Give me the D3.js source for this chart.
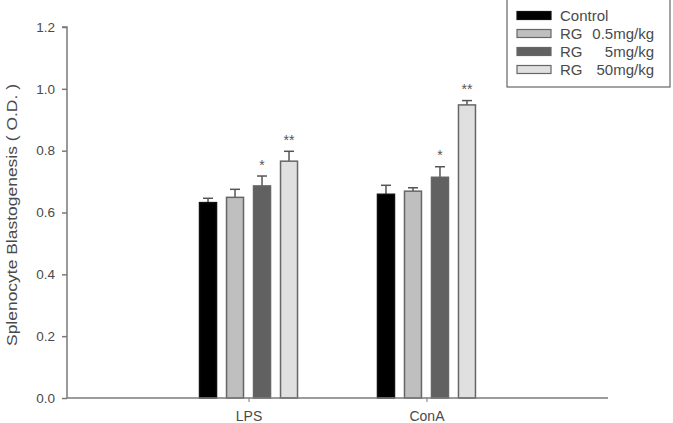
<!DOCTYPE html>
<html>
<head>
<meta charset="utf-8">
<script src="https://cdn.jsdelivr.net/npm/d3@7"></script>
<style>
  body { margin: 0; background: #fff; }
  svg { font-family: "Liberation Sans", Arial, sans-serif; }
</style>
</head>
<body>
<svg id="chart" width="673" height="423"></svg>
<script>
const categories = ['LPS', 'ConA'];
const groups = ['Control', 'RG 0.5mg/kg', 'RG 5mg/kg', 'RG 50mg/kg'];
const means = [
  [0.632, 0.649, 0.686, 0.766],
  [0.659, 0.669, 0.714, 0.948],
];
const errors = [
  [0.014, 0.026, 0.032, 0.032],
  [0.029, 0.011, 0.034, 0.014],
];
const stars = [
  ['', '', '*', '**'],
  ['', '', '*', '**'],
];
const yTicks = [0, 0.2, 0.4, 0.6, 0.8, 1.0, 1.2];
const fills = ['#000000', '#bfbfbf', '#616161', '#e0e0e0'];

const svg = d3.select('#chart');
const plotLeft = 67;
const plotRight = 608;
const plotBottom = 398;
const plotTop = 27;
const axisColor = '#7a7a7a';
const textColor = '#4a4a4a';

const x = d3.scalePoint()
    .domain(categories)
    .range([plotLeft, plotRight])
    .padding(1.02);
const xInner = d3.scaleBand()
    .domain(groups)
    .range([-54, 54]);
const barW = 17;
const y = d3.scaleLinear()
    .domain([0, 1.2])
    .range([plotBottom, plotTop]);

// bars
const gBars = svg.append('g').attr('class', 'chart');
categories.forEach((cat, ci) => {
  const g = gBars.append('g').attr('transform', `translate(${x(cat)},0)`);
  const items = groups.map((grp, gi) => ({grp, gi, v: means[ci][gi], e: errors[ci][gi], s: stars[ci][gi]}));
  const cx = (d) => xInner(d.grp) + xInner.bandwidth() / 2;

  g.selectAll('line.err')
      .data(items)
      .join('line')
      .attr('class', 'err')
      .attr('x1', cx).attr('x2', cx)
      .attr('y1', (d) => y(d.v)).attr('y2', (d) => y(d.v + d.e))
      .attr('stroke', '#555').attr('stroke-width', 1.5);
  g.selectAll('line.cap')
      .data(items)
      .join('line')
      .attr('class', 'cap')
      .attr('x1', (d) => cx(d) - 5).attr('x2', (d) => cx(d) + 5)
      .attr('y1', (d) => y(d.v + d.e)).attr('y2', (d) => y(d.v + d.e))
      .attr('stroke', '#555').attr('stroke-width', 1.5);

  g.selectAll('rect')
      .data(items)
      .join('rect')
      .attr('x', (d) => cx(d) - barW / 2)
      .attr('width', barW)
      .attr('y', (d) => y(d.v))
      .attr('height', (d) => plotBottom - y(d.v))
      .attr('fill', (d) => fills[d.gi])
      .attr('stroke', (d) => d.gi === 0 ? '#111' : '#666')
      .attr('stroke-width', 1.5);

  g.selectAll('text.star')
      .data(items.filter((d) => d.s))
      .join('text')
      .attr('class', 'star')
      .attr('x', cx)
      .attr('y', (d) => y(d.v + d.e) - 6.5)
      .attr('text-anchor', 'middle')
      .attr('font-size', 14)
      .attr('fill', '#555')
      .text((d) => d.s);
});

// axes
const yAxis = d3.axisLeft(y).tickValues(yTicks).tickFormat(d3.format('.1f')).tickSize(5).tickPadding(7);
const gy = svg.append('g')
    .attr('transform', `translate(${plotLeft},0)`)
    .call(yAxis);
gy.select('.domain').attr('stroke', axisColor).attr('stroke-width', 1.5).attr('d', `M-5,${plotTop}H0V${plotBottom}`);
gy.selectAll('.tick line').attr('stroke', axisColor).attr('stroke-width', 1.5);
gy.selectAll('.tick text').attr('fill', textColor).attr('font-size', 13.5);

const xAxis = d3.axisBottom(x).tickSize(4).tickPadding(9);
const gx = svg.append('g')
    .attr('transform', `translate(0,${plotBottom})`)
    .call(xAxis);
gx.select('.domain').attr('stroke', axisColor).attr('stroke-width', 1.5).attr('d', `M${plotLeft},0H${plotRight}`);
gx.selectAll('.tick line').attr('stroke', axisColor).attr('stroke-width', 1);
gx.selectAll('.tick text').attr('fill', textColor).attr('font-size', 14);

svg.append('text')
    .attr('transform', 'translate(17,215) rotate(-90)')
    .attr('text-anchor', 'middle')
    .attr('font-size', 15)
    .attr('textLength', 262)
    .attr('lengthAdjust', 'spacingAndGlyphs')
    .attr('fill', textColor)
    .text('Splenocyte Blastogenesis ( O.D. )');

// legend
const legend = svg.append('g').attr('class', 'legend');
legend.append('rect')
    .attr('x', 507).attr('y', -5)
    .attr('width', 163).attr('height', 92)
    .attr('fill', '#fff').attr('stroke', '#666').attr('stroke-width', 1.2);
const gLegend = legend.selectAll('g')
    .data(groups)
    .join('g')
    .attr('transform', (d, i) => `translate(517,${15.5 + i * 18})`);
gLegend.append('rect')
    .attr('x', 0).attr('y', -4)
    .attr('width', 34).attr('height', 8)
    .attr('fill', (d, i) => fills[i])
    .attr('stroke', (d, i) => i === 0 ? '#111' : '#666')
    .attr('stroke-width', 1.2);
gLegend.append('text')
    .attr('x', 43).attr('y', 5.5)
    .attr('font-size', 15)
    .attr('fill', textColor)
    .text((d) => d.split(' ')[0]);
gLegend.filter((d) => d.includes(' '))
    .append('text')
    .attr('x', 137).attr('y', 5.5)
    .attr('text-anchor', 'end')
    .attr('font-size', 15)
    .attr('fill', textColor)
    .text((d) => d.split(' ')[1]);
</script>
</body>
</html>
